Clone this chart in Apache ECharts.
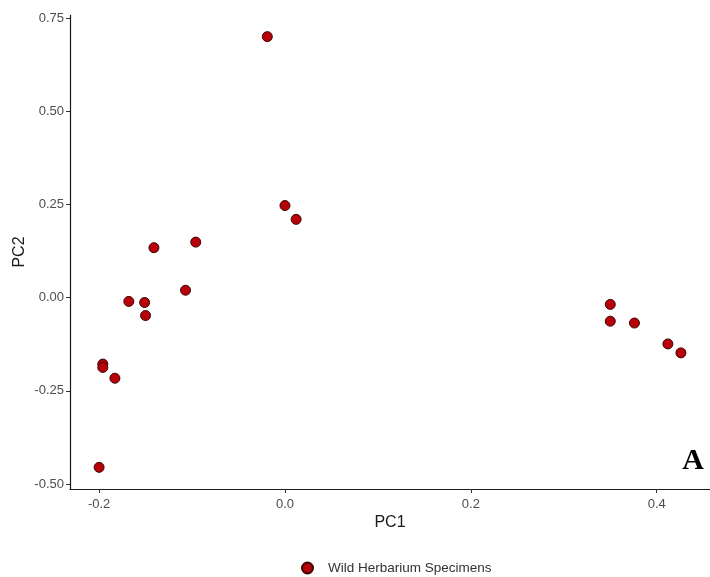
<!DOCTYPE html>
<html>
<head>
<meta charset="utf-8">
<script src="https://cdn.jsdelivr.net/npm/echarts@6/dist/echarts.min.js"></script>
<style>
html,body{margin:0;padding:0;background:#fff;}
#chart{width:710px;height:577px;}
</style>
</head>
<body>
<div id="chart"></div>
<script>
const seriesName = 'Wild Herbarium Specimens';
const pc1 = [-0.019, 0.000, 0.012, -0.096, -0.141, -0.107, -0.168, -0.151, -0.150, -0.196, -0.196, -0.183, -0.200, 0.350, 0.350, 0.376, 0.412, 0.426];
const pc2 = [0.700, 0.247, 0.210, 0.149, 0.134, 0.020, -0.010, -0.013, -0.048, -0.178, -0.187, -0.216, -0.455, -0.018, -0.063, -0.068, -0.124, -0.148];
const xTicks = [-0.2, 0.0, 0.2, 0.4];
const yTicks = [-0.50, -0.25, 0.00, 0.25, 0.50, 0.75];
const xRange = [-0.2313, 0.4573];
const yRange = [-0.513, 0.758];
const panelLabel = 'A';

const points = pc1.map((x, i) => [x, pc2[i]]);
const chart = echarts.init(document.getElementById('chart'));
const FONT = 'Liberation Sans, Arial, sans-serif';
const labelStyle = {color: '#4d4d4d', fontSize: 13, fontFamily: FONT};
chart.setOption({
  animation: false,
  backgroundColor: '#ffffff',
  grid: {left: 70, right: 0, top: 15, bottom: 88, containLabel: false, outerBoundsMode: 'none'},
  xAxis: {
    type: 'value', min: xRange[0], max: xRange[1],
    name: 'PC1', nameLocation: 'middle', nameGap: 26, nameMoveOverlap: false,
    nameTextStyle: {color: '#1a1a1a', fontSize: 16, fontFamily: FONT},
    axisLine: {show: true, onZero: false, lineStyle: {color: '#1a1a1a', width: 1.2}},
    axisTick: {show: true, length: 4, lineStyle: {color: '#333'}, customValues: xTicks},
    axisLabel: Object.assign({margin: 9, customValues: xTicks, formatter: v => v.toFixed(1)}, labelStyle),
    splitLine: {show: false}
  },
  yAxis: {
    type: 'value', min: yRange[0], max: yRange[1],
    name: 'PC2', nameLocation: 'middle', nameGap: 42, nameRotate: 90, nameMoveOverlap: false,
    nameTextStyle: {color: '#1a1a1a', fontSize: 16, fontFamily: FONT},
    axisLine: {show: true, onZero: false, lineStyle: {color: '#1a1a1a', width: 1.2}},
    axisTick: {show: true, length: 4, lineStyle: {color: '#333'}, customValues: yTicks},
    axisLabel: Object.assign({margin: 6, customValues: yTicks, formatter: v => v.toFixed(2)}, labelStyle),
    splitLine: {show: false}
  },
  legend: {
    top: 556, left: 296,
    itemWidth: 11, itemHeight: 11, itemGap: 10,
    icon: 'circle',
    textStyle: {color: '#333', fontSize: 13.5, fontFamily: FONT, padding: [0, 0, 0, 10]},
    data: [seriesName]
  },
  graphic: [{
    type: 'text', right: 6, top: 446,
    style: {text: panelLabel, font: 'bold 30px "Liberation Serif", "Times New Roman", serif', fill: '#000'}
  }],
  series: [{
    name: seriesName, type: 'scatter', data: points,
    symbol: 'circle', symbolSize: 10,
    itemStyle: {color: '#b80008', borderColor: '#3a0505', borderWidth: 1, opacity: 1}
  }]
});
</script>
</body>
</html>
